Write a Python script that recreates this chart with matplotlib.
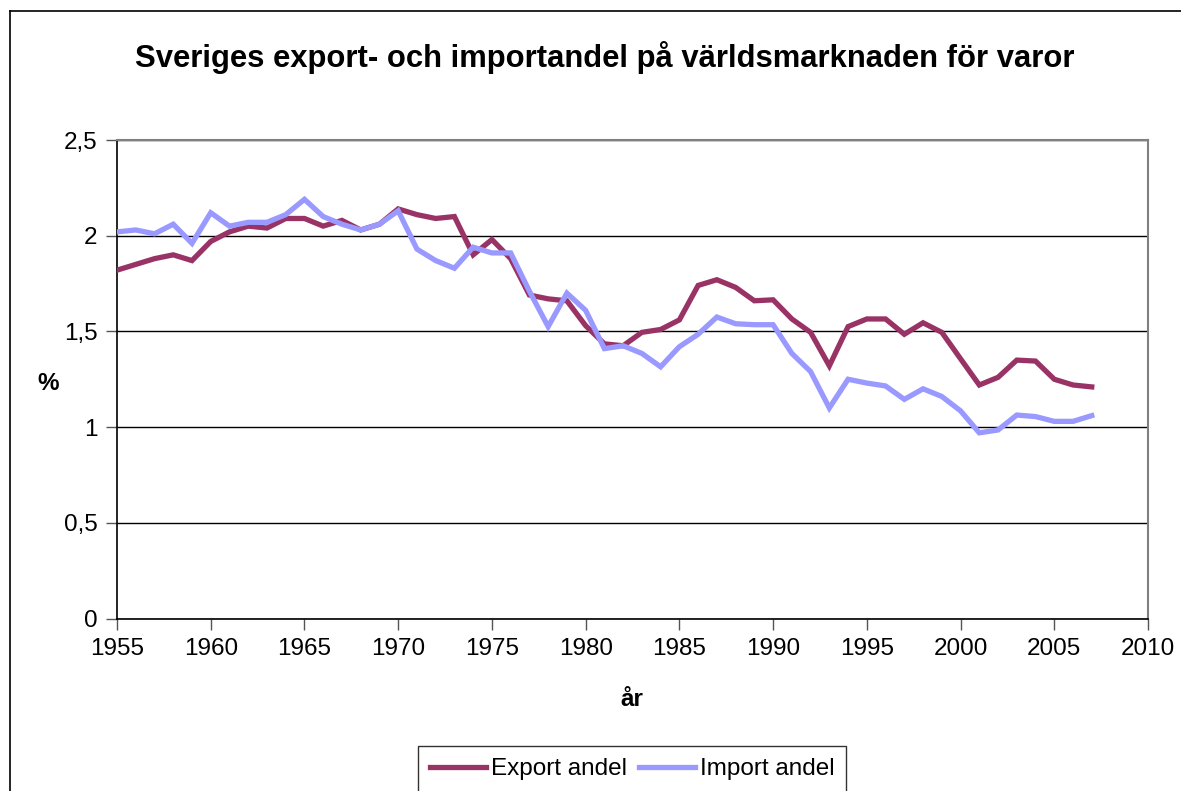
import matplotlib
matplotlib.use('Agg')
import matplotlib.pyplot as plt
from matplotlib.ticker import FuncFormatter, MultipleLocator
from matplotlib.lines import Line2D

# Swedish share of world market for goods (%)
years = list(range(1955, 2008))

export_share = [1.82, 1.85, 1.88, 1.90, 1.87, 1.97, 2.02, 2.05, 2.04, 2.09,
                2.09, 2.05, 2.08, 2.03, 2.06, 2.14, 2.11, 2.09, 2.10, 1.90,
                1.98, 1.88, 1.69, 1.67, 1.66, 1.53, 1.435, 1.425, 1.495, 1.51,
                1.56, 1.74, 1.77, 1.73, 1.66, 1.665, 1.565, 1.495, 1.32, 1.525,
                1.565, 1.565, 1.485, 1.545, 1.495, 1.357, 1.22, 1.26, 1.35, 1.345,
                1.25, 1.22, 1.21]

import_share = [2.02, 2.03, 2.01, 2.06, 1.96, 2.12, 2.05, 2.07, 2.07, 2.11,
                2.19, 2.10, 2.06, 2.03, 2.06, 2.13, 1.93, 1.87, 1.83, 1.94,
                1.91, 1.91, 1.71, 1.525, 1.70, 1.61, 1.41, 1.425, 1.385, 1.315,
                1.42, 1.485, 1.575, 1.54, 1.535, 1.535, 1.385, 1.29, 1.10, 1.25,
                1.23, 1.215, 1.145, 1.20, 1.16, 1.085, 0.97, 0.985, 1.063, 1.055,
                1.03, 1.03, 1.06]

series_labels = ['Export andel', 'Import andel']
title = 'Sveriges export- och importandel på världsmarknaden för varor'

plt.rcParams['font.family'] = ['Liberation Sans', 'DejaVu Sans']

W, H = 1181, 791
fig = plt.figure(figsize=(W / 100, H / 100), dpi=100)
ax = fig.add_axes([117 / W, 1 - 618.5 / H, (1148 - 117) / W, (618.5 - 140) / H])

# the two series, excel style colours
ax.plot(years, export_share, color='#993366', lw=3.8, label=series_labels[0],
        solid_joinstyle='miter', zorder=3)
ax.plot(years, import_share, color='#9999FF', lw=3.8, label=series_labels[1],
        solid_joinstyle='miter', zorder=4)

ax.set_xlim(1955, 2010)
ax.set_ylim(0, 2.5)
ax.xaxis.set_major_locator(MultipleLocator(5))
ax.yaxis.set_major_locator(MultipleLocator(0.5))

# decimal comma on the y axis
def comma(v, pos):
    s = ('%g' % v).replace('.', ',')
    return s
ax.yaxis.set_major_formatter(FuncFormatter(comma))

ax.grid(axis='y', color='black', lw=1, zorder=1)
ax.tick_params(axis='both', direction='out', length=8, width=1, labelsize=17.5,
               color='#555555', pad=6)

for side in ['top', 'right']:
    ax.spines[side].set_color('#808080')
    ax.spines[side].set_linewidth(1.5)
for side in ['left', 'bottom']:
    ax.spines[side].set_color('black')
    ax.spines[side].set_linewidth(1.2)

fig.text(605 / W, 1 - 57 / H, title, ha='center', va='center',
         fontsize=22.3, fontweight='bold')
fig.text(632 / W, 1 - 700 / H, 'år', ha='center', va='center',
         fontsize=17.5, fontweight='bold')
fig.text(48 / W, 1 - 383 / H, '%', ha='center', va='center',
         fontsize=17.5, fontweight='bold')

# legend box runs off the bottom edge like in the original
leg = fig.legend(loc='upper center', bbox_to_anchor=(632 / W, 1 - 746 / H),
                 ncol=2, fontsize=17.5, frameon=True, fancybox=False,
                 edgecolor='black', handlelength=2.3, handletextpad=0.2,
                 columnspacing=0.5, borderpad=0.5, borderaxespad=0)
leg.get_frame().set_linewidth(1)

# outer chart border (only top and left fall inside the picture)
fig.add_artist(Line2D([10 / W, 10 / W], [0, 1 - 11 / H], color='black', lw=1.2))
fig.add_artist(Line2D([10 / W, 1], [1 - 11 / H, 1 - 11 / H], color='black', lw=1.2))

fig.savefig('out.png', dpi=100)
